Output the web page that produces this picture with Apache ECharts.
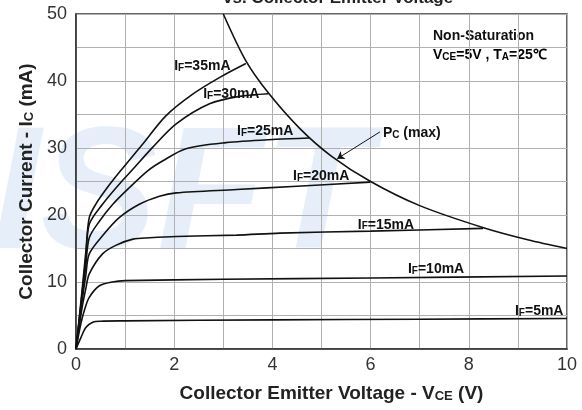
<!DOCTYPE html>
<html>
<head>
<meta charset="utf-8">
<script src="https://cdn.jsdelivr.net/npm/echarts@6/dist/echarts.min.js"></script>
<style>
  html, body { margin: 0; padding: 0; background: #fff; }
  #chart { width: 582px; height: 410px; }
</style>
</head>
<body>
<div id="chart"></div>
<script>
// curves: [Vce (V), Ic (mA)]
var if5  = [[0,0],[0.1,1.7],[0.2,3.2],[0.34,4.0],[0.5,4.15],[1,4.2],[4,4.35],[7,4.45],[10,4.55]];
var if10 = [[0,0],[0.1,3.8],[0.18,6.0],[0.27,7.7],[0.47,9.4],[0.74,10.0],[1.0,10.2],[3,10.4],[6,10.6],[10,10.9]];
var if15 = [[0,0],[0.12,6.0],[0.2,9.0],[0.27,11.2],[0.54,14.2],[0.82,15.5],[1.16,16.4],[1.5,16.6],[2.04,16.8],[3.27,17.0],[4.15,17.3],[6,17.6],[8.29,18.0]];
var if20 = [[0,0],[0.12,7.0],[0.2,11.0],[0.27,14.2],[0.54,16.9],[0.88,19.6],[1.29,21.6],[1.7,22.8],[2.04,23.3],[3.27,23.8],[4.5,24.3],[5.99,24.9]];
var if25 = [[0,0],[0.12,7.5],[0.2,12.5],[0.27,16.6],[0.48,19.1],[0.75,21.6],[1.09,24.1],[1.46,26.6],[1.77,28.1],[2.24,29.9],[3.05,30.8],[4.07,31.3],[4.75,31.5]];
var if30 = [[0,0],[0.12,8.0],[0.2,13.5],[0.27,18.6],[0.54,21.6],[0.88,24.6],[1.13,26.6],[1.56,30.1],[2.04,33.6],[2.72,36.6],[3.33,37.7],[3.92,38.1]];
var if35 = [[0,0],[0.12,8.5],[0.2,14.5],[0.27,19.6],[0.41,21.7],[0.68,24.5],[0.93,26.8],[1.36,30.6],[1.83,34.8],[2.37,38.0],[2.92,40.5],[3.46,42.6]];
var pcMax = [[3.0,50],[3.46,43.0],[3.92,38.2],[4.56,32.9],[5.2,28.8],[6.0,25.0],[7.0,21.4],[8.3,18.1],[9.2,16.3],[10,15.0]];

var curveNames = ['35', '30', '25', '20', '15', '10', '5'];
var curveData = [if35, if30, if25, if20, if15, if10, if5];
// where each I_F label sits (left-middle), in axis units
var labelAt = [[2.0,42.6],[2.59,38.5],[3.28,32.9],[4.42,26.2],[5.74,19.0],[6.76,12.4],[8.94,6.1]];

var xTicks = [0, 2, 4, 6, 8, 10];
var yTicks = [0, 10, 20, 30, 40, 50];

var FONT = '"Liberation Sans", Arial, sans-serif';

var subRich = {
    n: { fontFamily: FONT, fontSize: 14, fontWeight: 'bold', color: '#111', lineHeight: 20, verticalAlign: 'bottom' },
    s: { fontFamily: FONT, fontSize: 10, fontWeight: 'bold', color: '#111', lineHeight: 9, verticalAlign: 'bottom' }
};
var nameRich = {
    t: { fontFamily: FONT, fontSize: 19, fontWeight: 'bold', color: '#222', lineHeight: 26, verticalAlign: 'bottom' },
    u: { fontFamily: FONT, fontSize: 13, fontWeight: 'bold', color: '#222', lineHeight: 12, verticalAlign: 'bottom' }
};

var chartDom = document.getElementById('chart');
var myChart = echarts.init(chartDom);

var series = [];
for (var i = 0; i < curveData.length; i++) {
    series.push({
        name: 'IF=' + curveNames[i] + 'mA',
        type: 'line',
        data: curveData[i],
        smooth: 0.3,
        symbol: 'none',
        lineStyle: { color: '#111', width: 1.6 },
        z: 5,
        markPoint: {
            symbol: 'circle',
            symbolSize: 0,
            silent: true,
            data: [{ coord: labelAt[i] }],
            label: {
                show: true,
                position: 'right',
                distance: 0,
                formatter: '{n|I}{s|F}{n|=' + curveNames[i] + 'mA}',
                rich: subRich
            }
        }
    });
}

// P_C (max) line with its pointer
series.push({
    name: 'Pc',
    type: 'line',
    data: pcMax,
    smooth: 0.3,
    symbol: 'none',
    lineStyle: { color: '#111', width: 1.6 },
    z: 5,
    markPoint: {
        symbol: 'circle',
        symbolSize: 0,
        silent: true,
        data: [{ coord: [6.25, 32.6] }],
        label: {
            show: true,
            position: 'right',
            distance: 0,
            formatter: '{n|P}{s|C}{n| (max)}',
            rich: subRich
        }
    },
    markLine: {
        silent: true,
        symbol: ['none', 'arrow'],
        symbolSize: 7,
        label: { show: false },
        lineStyle: { color: '#111', width: 1, type: 'solid' },
        data: [[{ coord: [6.19, 32.4] }, { coord: [5.32, 28.4] }]]
    }
});

var option = {
    animation: false,
    backgroundColor: '#fff',
    grid: {
        left: 76,
        right: 15,
        top: 14,
        bottom: 61,
        show: true,
        borderColor: '#333',
        borderWidth: 1.5,
        containLabel: false
    },
    graphic: [
        {
            type: 'text',
            z: -10,
            left: -8,
            top: 112,
            silent: true,
            style: {
                text: 'ISFT',
                font: 'italic 900 175px "Liberation Sans", Arial, sans-serif',
                fill: '#e6eff9'
            }
        },
        {
            type: 'text',
            left: 223,
            top: -10,
            style: {
                text: 'vs. Collector Emitter Voltage',
                font: 'bold 17px ' + FONT,
                fill: '#222'
            }
        },
        {
            type: 'text',
            left: 433,
            top: 29,
            style: {
                text: 'Non-Saturation',
                font: 'bold 14px ' + FONT,
                fill: '#111'
            }
        },
        {
            type: 'text',
            left: 433,
            top: 48,
            style: {
                text: '{n|V}{s|CE}{n|=5V , T}{s|A}{n|=25℃}',
                rich: subRich
            }
        }
    ],
    xAxis: {
        type: 'value',
        min: 0,
        max: 10,
        interval: 2,
        name: '{t|Collector Emitter Voltage - V}{u|CE}{t| (V)}',
        nameLocation: 'middle',
        nameGap: 28,
        nameTextStyle: { rich: nameRich, padding: [0, 0, 0, 20] },
        axisLine: { show: true, lineStyle: { color: '#333', width: 1.5 } },
        axisTick: { show: false },
        axisLabel: {
            margin: 7,
            fontFamily: FONT,
            fontSize: 18,
            color: '#333',
            customValues: xTicks
        },
        splitLine: { show: true, lineStyle: { color: '#b0b0b0', width: 1 } },
        minorTick: { show: false, splitNumber: 2 },
        minorSplitLine: { show: true, lineStyle: { color: '#b0b0b0', width: 1 } }
    },
    yAxis: {
        type: 'value',
        min: 0,
        max: 50,
        interval: 10,
        name: '{t|Collector Current - I}{u|C}{t| (mA)}',
        nameLocation: 'middle',
        nameRotate: 90,
        nameGap: 40,
        nameTextStyle: { rich: nameRich },
        axisLine: { show: true, lineStyle: { color: '#333', width: 1.5 } },
        axisTick: { show: false },
        axisLabel: {
            margin: 9,
            fontFamily: FONT,
            fontSize: 18,
            color: '#333',
            customValues: yTicks
        },
        splitLine: { show: true, lineStyle: { color: '#b0b0b0', width: 1 } },
        minorTick: { show: false, splitNumber: 2 },
        minorSplitLine: { show: true, lineStyle: { color: '#b0b0b0', width: 1 } }
    },
    series: series
};

option && myChart.setOption(option);
new ResizeObserver(() => myChart.resize()).observe(chartDom);
</script>
</body>
</html>
